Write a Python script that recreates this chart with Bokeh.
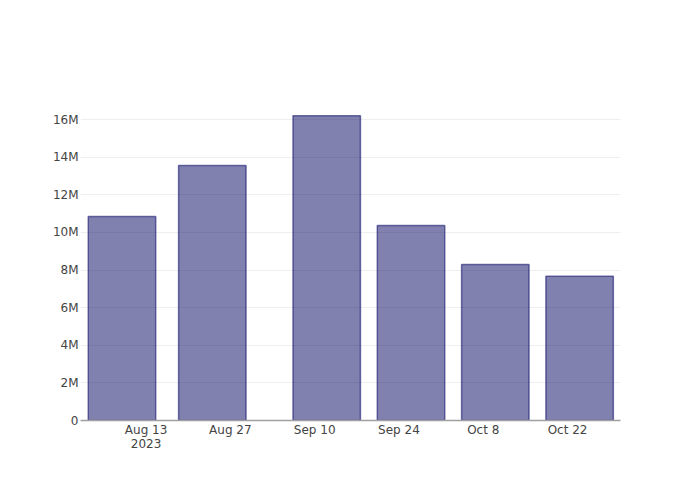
from datetime import datetime, timedelta
from bokeh.plotting import figure
from bokeh.models import Range1d, FixedTicker
from bokeh.embed import file_html
from bokeh.resources import INLINE

dates = ["2023-08-09", "2023-08-24", "2023-09-12", "2023-09-26", "2023-10-10", "2023-10-24"]
values = [10.84e6, 13.56e6, 16.2e6, 10.36e6, 8.29e6, 7.67e6]
tick_dates = ["2023-08-13", "2023-08-27", "2023-09-10", "2023-09-24", "2023-10-08", "2023-10-22"]
tick_labels = ["Aug 13\n2023", "Aug 27", "Sep 10", "Sep 24", "Oct 8", "Oct 22"]
y_ticks = [0, 2e6, 4e6, 6e6, 8e6, 10e6, 12e6, 14e6, 16e6]
y_labels = ["0", "2M", "4M", "6M", "8M", "10M", "12M", "14M", "16M"]

EPOCH = datetime(1970, 1, 1)
def ms(d):
    return (d - EPOCH).total_seconds() * 1000.0

xs = [ms(datetime.fromisoformat(d)) for d in dates]
tx = [ms(datetime.fromisoformat(d)) for d in tick_dates]
day = 86400000.0

p = figure(width=700, height=500, output_backend="svg", toolbar_location=None,
           x_axis_type="datetime",
           min_border_left=80, min_border_right=80, min_border_top=100, min_border_bottom=80)
p.x_range = Range1d(start=tx[0] - 10.89 * day, end=tx[-1] + 8.79 * day)
p.y_range = Range1d(start=0, end=17.01e6)

p.vbar(x=xs, top=values, width=11.2 * day,
       fill_color="midnightblue", fill_alpha=0.55,
       line_color="midnightblue", line_alpha=0.6, line_width=1.5)

p.outline_line_color = None
p.xgrid.grid_line_color = None
p.ygrid.grid_line_color = "#eeeeee"
p.ygrid.grid_line_width = 1

p.xaxis.ticker = FixedTicker(ticks=tx)
p.xaxis.major_label_overrides = {t: l for t, l in zip(tx, tick_labels)}
p.yaxis.ticker = FixedTicker(ticks=y_ticks)
p.yaxis.major_label_overrides = {t: l for t, l in zip(y_ticks, y_labels)}

for ax in (p.xaxis, p.yaxis):
    ax.major_tick_line_color = None
    ax.minor_tick_line_color = None
    ax.major_label_text_font = "DejaVu Sans"
    ax.major_label_text_font_size = "12px"
    ax.major_label_text_color = "#444444"
    ax.major_label_text_line_height = 1.0
p.yaxis.axis_line_color = None
p.xaxis.axis_line_color = "#a0a0a0"
p.xaxis.axis_line_width = 1.5
p.yaxis.major_label_standoff = -4
p.xaxis.major_label_standoff = -4

open("out.html", "w").write(file_html(p, INLINE))
